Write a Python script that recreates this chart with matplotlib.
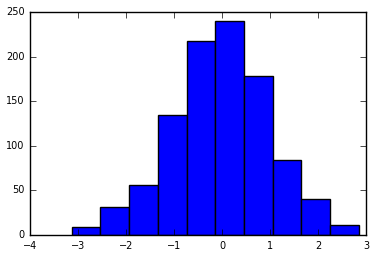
import numpy as np
import matplotlib
matplotlib.use("Agg")
import matplotlib.pyplot as plt

plt.style.use("classic")

bin_edges = np.linspace(-3.13, 2.85, 11)
counts = [9, 31, 56, 135, 218, 240, 178, 84, 40, 11]

fig = plt.figure(figsize=(3.75, 2.56), dpi=100)
ax = fig.add_axes([0.08, 0.082, 0.896, 0.871])
widths = np.diff(bin_edges)
ax.bar(bin_edges[:-1], counts, width=widths, align="edge",
       color="#0000ff", edgecolor="black", linewidth=1)
ax.set_xlim(-4, 3)
ax.set_ylim(0, 250)
ax.set_xticks(range(-4, 4))
ax.set_yticks(range(0, 251, 50))
ax.tick_params(labelsize=7, direction="in", length=4, top=True, right=True)
fig.savefig("out.png", dpi=100)
